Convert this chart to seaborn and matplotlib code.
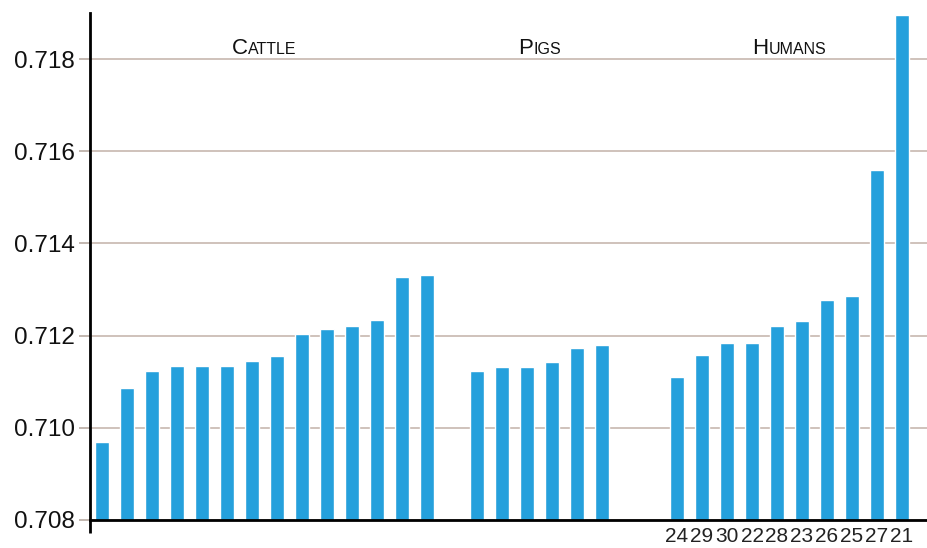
import matplotlib
matplotlib.use("Agg")
import matplotlib.pyplot as plt
import seaborn as sns
import pandas as pd
from matplotlib.offsetbox import TextArea, HPacker, AnnotationBbox

# ---- data ----
group_names = ["Cattle", "Pigs", "Humans"]
cattle_values = [0.7097, 0.71086, 0.71124, 0.71135, 0.71135, 0.71135, 0.71146,
                 0.71155, 0.71204, 0.71214, 0.7122, 0.71234, 0.71328, 0.71331]
pig_values = [0.71124, 0.71131, 0.71131, 0.71142, 0.71173, 0.7118]
human_values = [0.7111, 0.71157, 0.71185, 0.71185, 0.7122, 0.71232, 0.71277,
                0.71286, 0.71559, 0.71895]
human_labels = ["24", "29", "30", "22", "28", "23", "26", "25", "27", "21"]
y_ticks = [0.708, 0.710, 0.712, 0.714, 0.716, 0.718]

# ---- layout of bar slots (gaps between groups) ----
gaps_after = [1, 2, 0]
groups = [cattle_values, pig_values, human_values]
positions, values, gnames, group_pos = [], [], [], []
slot = 0
for name, vals, gap in zip(group_names, groups, gaps_after):
    p = list(range(slot, slot + len(vals)))
    positions += p
    values += vals
    gnames += [name] * len(vals)
    group_pos.append(p)
    slot += len(vals) + gap

df = pd.DataFrame({"pos": positions, "value": values, "group": gnames})

sns.set_theme(style="white")
plt.rcParams["font.family"] = ["Liberation Sans", "DejaVu Sans"]

W, H = 928, 548
fig = plt.figure(figsize=(W / 100, H / 100), dpi=100)
left_px, top_px, bottom_px = 90, 13, 520
ax = fig.add_axes([left_px / W, (H - bottom_px) / H, 1 - left_px / W,
                   (bottom_px - top_px) / H])

sns.barplot(data=df, x="pos", y="value", native_scale=True, width=0.54,
            color="#25a0dc", saturation=1, errorbar=None, ax=ax)

ax.set_ylim(0.708, 0.719)
ax.set_xlim(-0.48, 33.04)
ax.set_yticks(y_ticks)
ax.set_yticklabels([f"{v:.3f}" for v in y_ticks], fontsize=17.5, color="#111111")
ax.set_xticks(group_pos[2])
ax.set_xticklabels(human_labels, fontsize=15, color="#222222",
                   family=["Liberation Sans Narrow", "Liberation Sans", "DejaVu Sans"])
ax.tick_params(axis="x", length=0, pad=5)
ax.tick_params(axis="y", length=8, width=1.2, color="#b8aaa2", pad=3, left=True)
ax.set_xlabel("")
ax.set_ylabel("")

ax.yaxis.grid(True, color="#cbbdb5", lw=1.3)
ax.xaxis.grid(False)
ax.set_axisbelow(True)
for s in ["top", "right"]:
    ax.spines[s].set_visible(False)
for s in ["left", "bottom"]:
    ax.spines[s].set_color("black")
    ax.spines[s].set_linewidth(2)
ax.spines["bottom"].set_zorder(5)
ax.plot([0, 0], [0, -13 / (bottom_px - top_px)], transform=ax.transAxes,
        color="black", lw=2, clip_on=False, solid_capstyle="butt")

# group labels in small caps
for name, p in zip(group_names, group_pos):
    first = TextArea(name[0].upper(), textprops=dict(fontsize=16, color="#111111"))
    rest = TextArea(name[1:].upper(), textprops=dict(fontsize=11.5, color="#111111"))
    box = HPacker(children=[first, rest], align="baseline", pad=0, sep=0)
    xc = (p[0] + p[-1]) / 2
    ab = AnnotationBbox(box, (xc, 0.71801), xycoords="data",
                        box_alignment=(0.5, 0.0), frameon=False, pad=0)
    ax.add_artist(ab)

fig.savefig("out.png", dpi=100)
